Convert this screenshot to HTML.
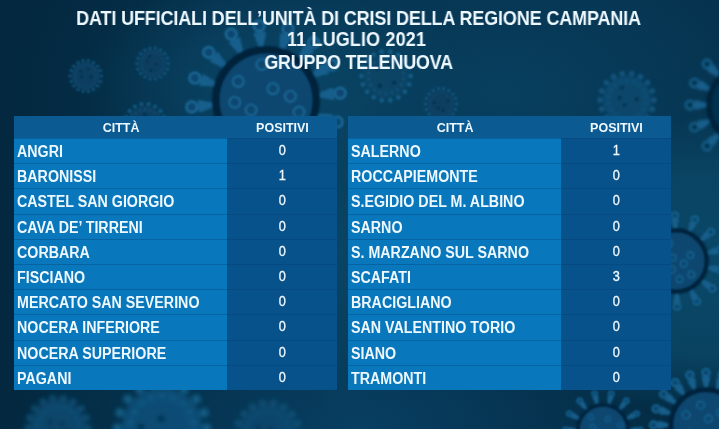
<!DOCTYPE html>
<html><head><meta charset="utf-8">
<style>
*{margin:0;padding:0;box-sizing:border-box}
html,body{width:719px;height:429px;overflow:hidden}
body{position:relative;background:#042b43;font-family:"Liberation Sans",Arial,sans-serif;font-weight:bold;color:#eef8ff}
#bg{position:absolute;left:0;top:0;width:719px;height:429px}
.title{will-change:transform;transform:scaleX(0.9326);position:absolute;left:0;width:719px;text-align:center;font-size:19.3px;line-height:22px;white-space:nowrap}
.tbl{will-change:transform;position:absolute;top:116px;width:322.5px;height:274px}
.hdr{position:absolute;left:0;top:0;width:100%;height:22px;background:#0b5a92}
.hdr span{position:absolute;top:0;height:22px;line-height:23px;font-size:13px;text-align:center}
.hdr span b{display:inline-block;transform:translateX(1px) scaleX(0.96)}
.row{position:absolute;left:0;width:100%}
.row .c{position:absolute;left:0;top:0;width:213px;height:100%;background:#0977bb;font-size:15.5px;line-height:25.5px;padding-left:3.2px;white-space:nowrap}
.row .c span{display:inline-block;transform:translateY(0.5px) scale(0.92,1.04);transform-origin:0 50%}
.row .p span{display:inline-block;transform:translateY(-1.1px) scale(0.85,1.03);-webkit-text-stroke:0.35px #eef8ff}
.row .p{position:absolute;left:213px;top:0;width:109.5px;height:100%;background:#07528b;font-size:15px;line-height:25px;text-align:center;font-weight:normal}
.row .c::after,.row .p::after{content:"";position:absolute;left:0;top:0;width:100%;height:1px;background:rgba(0,50,100,.3)}
.row .p::after{background:rgba(0,40,80,.15)}
</style></head><body>
<svg id="bg" width="719" height="429" viewBox="0 0 719 429">
<defs>
<filter id="b1" x="-50%" y="-50%" width="200%" height="200%"><feGaussianBlur stdDeviation="0.9"/></filter>
<filter id="b15" x="-50%" y="-50%" width="200%" height="200%"><feGaussianBlur stdDeviation="1.3"/></filter>
<filter id="b3" x="-50%" y="-50%" width="200%" height="200%"><feGaussianBlur stdDeviation="2.6"/></filter>
<filter id="b2" x="-50%" y="-50%" width="200%" height="200%"><feGaussianBlur stdDeviation="1.8"/></filter>
<radialGradient id="g1" cx="0.7" cy="0.22" r="0.7"><stop offset="0" stop-color="#083f5f"/><stop offset="1" stop-color="#083f5f" stop-opacity="0"/></radialGradient>
<radialGradient id="g3" cx="1" cy="0.62" r="0.35"><stop offset="0" stop-color="#0a4767"/><stop offset="0.6" stop-color="#0a4767" stop-opacity=".85"/><stop offset="1" stop-color="#0a4767" stop-opacity="0"/></radialGradient>
<radialGradient id="g4"><stop offset="0" stop-color="#0a4566"/><stop offset="0.5" stop-color="#0a4566" stop-opacity=".6"/><stop offset="1" stop-color="#0a4566" stop-opacity="0"/></radialGradient>
<radialGradient id="g2" cx="0.5" cy="1" r="0.5"><stop offset="0" stop-color="#083f62"/><stop offset="1" stop-color="#083f62" stop-opacity="0"/></radialGradient>
</defs>
<rect width="719" height="429" fill="#03283f"/>
<rect width="719" height="429" fill="url(#g1)"/>
<rect width="719" height="429" fill="url(#g2)"/>
<rect width="719" height="429" fill="url(#g3)"/>
<ellipse cx="275" cy="85" rx="190" ry="120" fill="url(#g4)"/>
<ellipse cx="342" cy="250" rx="45" ry="170" fill="url(#g4)"/>
<g opacity="1" filter="url(#b15)">
<circle cx="85.7" cy="76" r="14" fill="#083d5e"/>
<circle cx="101.4" cy="76.0" r="1.5" fill="#145a83"/>
<circle cx="100.4" cy="81.4" r="1.5" fill="#145a83"/>
<circle cx="97.7" cy="86.1" r="1.5" fill="#145a83"/>
<circle cx="93.5" cy="89.6" r="1.5" fill="#145a83"/>
<circle cx="88.4" cy="91.4" r="1.5" fill="#145a83"/>
<circle cx="83.0" cy="91.4" r="1.5" fill="#145a83"/>
<circle cx="77.9" cy="89.6" r="1.5" fill="#145a83"/>
<circle cx="73.7" cy="86.1" r="1.5" fill="#145a83"/>
<circle cx="71.0" cy="81.4" r="1.5" fill="#145a83"/>
<circle cx="70.0" cy="76.0" r="1.5" fill="#145a83"/>
<circle cx="71.0" cy="70.6" r="1.5" fill="#145a83"/>
<circle cx="73.7" cy="65.9" r="1.5" fill="#145a83"/>
<circle cx="77.9" cy="62.4" r="1.5" fill="#145a83"/>
<circle cx="83.0" cy="60.6" r="1.5" fill="#145a83"/>
<circle cx="88.4" cy="60.6" r="1.5" fill="#145a83"/>
<circle cx="93.5" cy="62.4" r="1.5" fill="#145a83"/>
<circle cx="97.7" cy="65.9" r="1.5" fill="#145a83"/>
<circle cx="100.4" cy="70.6" r="1.5" fill="#145a83"/>
<circle cx="96.7" cy="77.9" r="1.0" fill="#145a83" opacity=".7"/>
<circle cx="95.4" cy="81.6" r="1.0" fill="#145a83" opacity=".7"/>
<circle cx="92.9" cy="84.6" r="1.0" fill="#145a83" opacity=".7"/>
<circle cx="89.5" cy="86.5" r="1.0" fill="#145a83" opacity=".7"/>
<circle cx="85.7" cy="87.2" r="1.0" fill="#145a83" opacity=".7"/>
<circle cx="81.9" cy="86.5" r="1.0" fill="#145a83" opacity=".7"/>
<circle cx="78.5" cy="84.6" r="1.0" fill="#145a83" opacity=".7"/>
<circle cx="76.0" cy="81.6" r="1.0" fill="#145a83" opacity=".7"/>
<circle cx="74.7" cy="77.9" r="1.0" fill="#145a83" opacity=".7"/>
<circle cx="74.7" cy="74.1" r="1.0" fill="#145a83" opacity=".7"/>
<circle cx="76.0" cy="70.4" r="1.0" fill="#145a83" opacity=".7"/>
<circle cx="78.5" cy="67.4" r="1.0" fill="#145a83" opacity=".7"/>
<circle cx="81.9" cy="65.5" r="1.0" fill="#145a83" opacity=".7"/>
<circle cx="85.7" cy="64.8" r="1.0" fill="#145a83" opacity=".7"/>
<circle cx="89.5" cy="65.5" r="1.0" fill="#145a83" opacity=".7"/>
<circle cx="92.9" cy="67.4" r="1.0" fill="#145a83" opacity=".7"/>
<circle cx="95.4" cy="70.4" r="1.0" fill="#145a83" opacity=".7"/>
<circle cx="96.7" cy="74.1" r="1.0" fill="#145a83" opacity=".7"/>
<circle cx="80.9" cy="71.4" r="1.4" fill="#052f4b" opacity=".8"/>
<circle cx="87.8" cy="68.8" r="1.4" fill="#052f4b" opacity=".8"/>
<circle cx="90.9" cy="77.0" r="1.4" fill="#052f4b" opacity=".8"/>
<circle cx="81.9" cy="76.7" r="1.4" fill="#052f4b" opacity=".8"/>
</g>
<g opacity="1" filter="url(#b15)">
<circle cx="152.6" cy="63.5" r="14" fill="#083d5e"/>
<circle cx="168.3" cy="63.5" r="1.5" fill="#145a83"/>
<circle cx="167.3" cy="68.9" r="1.5" fill="#145a83"/>
<circle cx="164.6" cy="73.6" r="1.5" fill="#145a83"/>
<circle cx="160.4" cy="77.1" r="1.5" fill="#145a83"/>
<circle cx="155.3" cy="78.9" r="1.5" fill="#145a83"/>
<circle cx="149.9" cy="78.9" r="1.5" fill="#145a83"/>
<circle cx="144.8" cy="77.1" r="1.5" fill="#145a83"/>
<circle cx="140.6" cy="73.6" r="1.5" fill="#145a83"/>
<circle cx="137.9" cy="68.9" r="1.5" fill="#145a83"/>
<circle cx="136.9" cy="63.5" r="1.5" fill="#145a83"/>
<circle cx="137.9" cy="58.1" r="1.5" fill="#145a83"/>
<circle cx="140.6" cy="53.4" r="1.5" fill="#145a83"/>
<circle cx="144.8" cy="49.9" r="1.5" fill="#145a83"/>
<circle cx="149.9" cy="48.1" r="1.5" fill="#145a83"/>
<circle cx="155.3" cy="48.1" r="1.5" fill="#145a83"/>
<circle cx="160.4" cy="49.9" r="1.5" fill="#145a83"/>
<circle cx="164.6" cy="53.4" r="1.5" fill="#145a83"/>
<circle cx="167.3" cy="58.1" r="1.5" fill="#145a83"/>
<circle cx="163.6" cy="65.4" r="1.0" fill="#145a83" opacity=".7"/>
<circle cx="162.3" cy="69.1" r="1.0" fill="#145a83" opacity=".7"/>
<circle cx="159.8" cy="72.1" r="1.0" fill="#145a83" opacity=".7"/>
<circle cx="156.4" cy="74.0" r="1.0" fill="#145a83" opacity=".7"/>
<circle cx="152.6" cy="74.7" r="1.0" fill="#145a83" opacity=".7"/>
<circle cx="148.8" cy="74.0" r="1.0" fill="#145a83" opacity=".7"/>
<circle cx="145.4" cy="72.1" r="1.0" fill="#145a83" opacity=".7"/>
<circle cx="142.9" cy="69.1" r="1.0" fill="#145a83" opacity=".7"/>
<circle cx="141.6" cy="65.4" r="1.0" fill="#145a83" opacity=".7"/>
<circle cx="141.6" cy="61.6" r="1.0" fill="#145a83" opacity=".7"/>
<circle cx="142.9" cy="57.9" r="1.0" fill="#145a83" opacity=".7"/>
<circle cx="145.4" cy="54.9" r="1.0" fill="#145a83" opacity=".7"/>
<circle cx="148.8" cy="53.0" r="1.0" fill="#145a83" opacity=".7"/>
<circle cx="152.6" cy="52.3" r="1.0" fill="#145a83" opacity=".7"/>
<circle cx="156.4" cy="53.0" r="1.0" fill="#145a83" opacity=".7"/>
<circle cx="159.8" cy="54.9" r="1.0" fill="#145a83" opacity=".7"/>
<circle cx="162.3" cy="57.9" r="1.0" fill="#145a83" opacity=".7"/>
<circle cx="163.6" cy="61.6" r="1.0" fill="#145a83" opacity=".7"/>
<circle cx="147.0" cy="61.9" r="1.4" fill="#052f4b" opacity=".8"/>
<circle cx="156.2" cy="63.8" r="1.4" fill="#052f4b" opacity=".8"/>
<circle cx="151.2" cy="70.7" r="1.4" fill="#052f4b" opacity=".8"/>
<circle cx="149.8" cy="56.5" r="1.4" fill="#052f4b" opacity=".8"/>
</g>
<g opacity="1" filter="url(#b15)">
<circle cx="145" cy="124" r="18" fill="#083d5e"/>
<circle cx="165.2" cy="124.0" r="2.0" fill="#145a83"/>
<circle cx="163.9" cy="130.9" r="2.0" fill="#145a83"/>
<circle cx="160.4" cy="137.0" r="2.0" fill="#145a83"/>
<circle cx="155.1" cy="141.5" r="2.0" fill="#145a83"/>
<circle cx="148.5" cy="143.9" r="2.0" fill="#145a83"/>
<circle cx="141.5" cy="143.9" r="2.0" fill="#145a83"/>
<circle cx="134.9" cy="141.5" r="2.0" fill="#145a83"/>
<circle cx="129.6" cy="137.0" r="2.0" fill="#145a83"/>
<circle cx="126.1" cy="130.9" r="2.0" fill="#145a83"/>
<circle cx="124.8" cy="124.0" r="2.0" fill="#145a83"/>
<circle cx="126.1" cy="117.1" r="2.0" fill="#145a83"/>
<circle cx="129.6" cy="111.0" r="2.0" fill="#145a83"/>
<circle cx="134.9" cy="106.5" r="2.0" fill="#145a83"/>
<circle cx="141.5" cy="104.1" r="2.0" fill="#145a83"/>
<circle cx="148.5" cy="104.1" r="2.0" fill="#145a83"/>
<circle cx="155.1" cy="106.5" r="2.0" fill="#145a83"/>
<circle cx="160.4" cy="111.0" r="2.0" fill="#145a83"/>
<circle cx="163.9" cy="117.1" r="2.0" fill="#145a83"/>
<circle cx="159.2" cy="126.5" r="1.3" fill="#145a83" opacity=".7"/>
<circle cx="157.5" cy="131.2" r="1.3" fill="#145a83" opacity=".7"/>
<circle cx="154.3" cy="135.0" r="1.3" fill="#145a83" opacity=".7"/>
<circle cx="149.9" cy="137.5" r="1.3" fill="#145a83" opacity=".7"/>
<circle cx="145.0" cy="138.4" r="1.3" fill="#145a83" opacity=".7"/>
<circle cx="140.1" cy="137.5" r="1.3" fill="#145a83" opacity=".7"/>
<circle cx="135.7" cy="135.0" r="1.3" fill="#145a83" opacity=".7"/>
<circle cx="132.5" cy="131.2" r="1.3" fill="#145a83" opacity=".7"/>
<circle cx="130.8" cy="126.5" r="1.3" fill="#145a83" opacity=".7"/>
<circle cx="130.8" cy="121.5" r="1.3" fill="#145a83" opacity=".7"/>
<circle cx="132.5" cy="116.8" r="1.3" fill="#145a83" opacity=".7"/>
<circle cx="135.7" cy="113.0" r="1.3" fill="#145a83" opacity=".7"/>
<circle cx="140.1" cy="110.5" r="1.3" fill="#145a83" opacity=".7"/>
<circle cx="145.0" cy="109.6" r="1.3" fill="#145a83" opacity=".7"/>
<circle cx="149.9" cy="110.5" r="1.3" fill="#145a83" opacity=".7"/>
<circle cx="154.3" cy="113.0" r="1.3" fill="#145a83" opacity=".7"/>
<circle cx="157.5" cy="116.8" r="1.3" fill="#145a83" opacity=".7"/>
<circle cx="159.2" cy="121.5" r="1.3" fill="#145a83" opacity=".7"/>
<circle cx="149.2" cy="120.6" r="1.8" fill="#052f4b" opacity=".8"/>
<circle cx="142.4" cy="127.1" r="1.8" fill="#052f4b" opacity=".8"/>
<circle cx="145.0" cy="114.9" r="1.8" fill="#052f4b" opacity=".8"/>
<circle cx="149.1" cy="132.8" r="1.8" fill="#052f4b" opacity=".8"/>
</g>
<g opacity="1" filter="url(#b15)">
<circle cx="441" cy="104" r="14" fill="#083d5e"/>
<circle cx="456.7" cy="104.0" r="1.5" fill="#145a83"/>
<circle cx="455.7" cy="109.4" r="1.5" fill="#145a83"/>
<circle cx="453.0" cy="114.1" r="1.5" fill="#145a83"/>
<circle cx="448.8" cy="117.6" r="1.5" fill="#145a83"/>
<circle cx="443.7" cy="119.4" r="1.5" fill="#145a83"/>
<circle cx="438.3" cy="119.4" r="1.5" fill="#145a83"/>
<circle cx="433.2" cy="117.6" r="1.5" fill="#145a83"/>
<circle cx="429.0" cy="114.1" r="1.5" fill="#145a83"/>
<circle cx="426.3" cy="109.4" r="1.5" fill="#145a83"/>
<circle cx="425.3" cy="104.0" r="1.5" fill="#145a83"/>
<circle cx="426.3" cy="98.6" r="1.5" fill="#145a83"/>
<circle cx="429.0" cy="93.9" r="1.5" fill="#145a83"/>
<circle cx="433.2" cy="90.4" r="1.5" fill="#145a83"/>
<circle cx="438.3" cy="88.6" r="1.5" fill="#145a83"/>
<circle cx="443.7" cy="88.6" r="1.5" fill="#145a83"/>
<circle cx="448.8" cy="90.4" r="1.5" fill="#145a83"/>
<circle cx="453.0" cy="93.9" r="1.5" fill="#145a83"/>
<circle cx="455.7" cy="98.6" r="1.5" fill="#145a83"/>
<circle cx="452.0" cy="105.9" r="1.0" fill="#145a83" opacity=".7"/>
<circle cx="450.7" cy="109.6" r="1.0" fill="#145a83" opacity=".7"/>
<circle cx="448.2" cy="112.6" r="1.0" fill="#145a83" opacity=".7"/>
<circle cx="444.8" cy="114.5" r="1.0" fill="#145a83" opacity=".7"/>
<circle cx="441.0" cy="115.2" r="1.0" fill="#145a83" opacity=".7"/>
<circle cx="437.2" cy="114.5" r="1.0" fill="#145a83" opacity=".7"/>
<circle cx="433.8" cy="112.6" r="1.0" fill="#145a83" opacity=".7"/>
<circle cx="431.3" cy="109.6" r="1.0" fill="#145a83" opacity=".7"/>
<circle cx="430.0" cy="105.9" r="1.0" fill="#145a83" opacity=".7"/>
<circle cx="430.0" cy="102.1" r="1.0" fill="#145a83" opacity=".7"/>
<circle cx="431.3" cy="98.4" r="1.0" fill="#145a83" opacity=".7"/>
<circle cx="433.8" cy="95.4" r="1.0" fill="#145a83" opacity=".7"/>
<circle cx="437.2" cy="93.5" r="1.0" fill="#145a83" opacity=".7"/>
<circle cx="441.0" cy="92.8" r="1.0" fill="#145a83" opacity=".7"/>
<circle cx="444.8" cy="93.5" r="1.0" fill="#145a83" opacity=".7"/>
<circle cx="448.2" cy="95.4" r="1.0" fill="#145a83" opacity=".7"/>
<circle cx="450.7" cy="98.4" r="1.0" fill="#145a83" opacity=".7"/>
<circle cx="452.0" cy="102.1" r="1.0" fill="#145a83" opacity=".7"/>
<circle cx="443.2" cy="110.3" r="1.4" fill="#052f4b" opacity=".8"/>
<circle cx="447.8" cy="100.8" r="1.4" fill="#052f4b" opacity=".8"/>
<circle cx="438.4" cy="107.8" r="1.4" fill="#052f4b" opacity=".8"/>
<circle cx="434.3" cy="103.0" r="1.4" fill="#052f4b" opacity=".8"/>
</g>
<g opacity="0.85" filter="url(#b15)">
<circle cx="386" cy="76" r="22" fill="#0a4466"/>
<circle cx="410.6" cy="76.0" r="2.4" fill="#17628e"/>
<circle cx="409.2" cy="84.4" r="2.4" fill="#17628e"/>
<circle cx="404.9" cy="91.8" r="2.4" fill="#17628e"/>
<circle cx="398.3" cy="97.3" r="2.4" fill="#17628e"/>
<circle cx="390.3" cy="100.3" r="2.4" fill="#17628e"/>
<circle cx="381.7" cy="100.3" r="2.4" fill="#17628e"/>
<circle cx="373.7" cy="97.3" r="2.4" fill="#17628e"/>
<circle cx="367.1" cy="91.8" r="2.4" fill="#17628e"/>
<circle cx="362.8" cy="84.4" r="2.4" fill="#17628e"/>
<circle cx="361.4" cy="76.0" r="2.4" fill="#17628e"/>
<circle cx="362.8" cy="67.6" r="2.4" fill="#17628e"/>
<circle cx="367.1" cy="60.2" r="2.4" fill="#17628e"/>
<circle cx="373.7" cy="54.7" r="2.4" fill="#17628e"/>
<circle cx="381.7" cy="51.7" r="2.4" fill="#17628e"/>
<circle cx="390.3" cy="51.7" r="2.4" fill="#17628e"/>
<circle cx="398.3" cy="54.7" r="2.4" fill="#17628e"/>
<circle cx="404.9" cy="60.2" r="2.4" fill="#17628e"/>
<circle cx="409.2" cy="67.6" r="2.4" fill="#17628e"/>
<circle cx="403.3" cy="79.1" r="1.5" fill="#17628e" opacity=".7"/>
<circle cx="401.2" cy="84.8" r="1.5" fill="#17628e" opacity=".7"/>
<circle cx="397.3" cy="89.5" r="1.5" fill="#17628e" opacity=".7"/>
<circle cx="392.0" cy="92.5" r="1.5" fill="#17628e" opacity=".7"/>
<circle cx="386.0" cy="93.6" r="1.5" fill="#17628e" opacity=".7"/>
<circle cx="380.0" cy="92.5" r="1.5" fill="#17628e" opacity=".7"/>
<circle cx="374.7" cy="89.5" r="1.5" fill="#17628e" opacity=".7"/>
<circle cx="370.8" cy="84.8" r="1.5" fill="#17628e" opacity=".7"/>
<circle cx="368.7" cy="79.1" r="1.5" fill="#17628e" opacity=".7"/>
<circle cx="368.7" cy="72.9" r="1.5" fill="#17628e" opacity=".7"/>
<circle cx="370.8" cy="67.2" r="1.5" fill="#17628e" opacity=".7"/>
<circle cx="374.7" cy="62.5" r="1.5" fill="#17628e" opacity=".7"/>
<circle cx="380.0" cy="59.5" r="1.5" fill="#17628e" opacity=".7"/>
<circle cx="386.0" cy="58.4" r="1.5" fill="#17628e" opacity=".7"/>
<circle cx="392.0" cy="59.5" r="1.5" fill="#17628e" opacity=".7"/>
<circle cx="397.3" cy="62.5" r="1.5" fill="#17628e" opacity=".7"/>
<circle cx="401.2" cy="67.2" r="1.5" fill="#17628e" opacity=".7"/>
<circle cx="403.3" cy="72.9" r="1.5" fill="#17628e" opacity=".7"/>
<circle cx="394.1" cy="82.6" r="2.2" fill="#052f4b" opacity=".8"/>
<circle cx="389.3" cy="65.3" r="2.2" fill="#052f4b" opacity=".8"/>
<circle cx="377.1" cy="68.6" r="2.2" fill="#052f4b" opacity=".8"/>
<circle cx="379.8" cy="85.8" r="2.2" fill="#052f4b" opacity=".8"/>
</g>
<g opacity="0.9" filter="url(#b2)">
<circle cx="627" cy="100" r="24" fill="#0b4a6e"/>
<circle cx="653.9" cy="100.0" r="2.6" fill="#145c88"/>
<circle cx="652.3" cy="109.2" r="2.6" fill="#145c88"/>
<circle cx="647.6" cy="117.3" r="2.6" fill="#145c88"/>
<circle cx="640.4" cy="123.3" r="2.6" fill="#145c88"/>
<circle cx="631.7" cy="126.5" r="2.6" fill="#145c88"/>
<circle cx="622.3" cy="126.5" r="2.6" fill="#145c88"/>
<circle cx="613.6" cy="123.3" r="2.6" fill="#145c88"/>
<circle cx="606.4" cy="117.3" r="2.6" fill="#145c88"/>
<circle cx="601.7" cy="109.2" r="2.6" fill="#145c88"/>
<circle cx="600.1" cy="100.0" r="2.6" fill="#145c88"/>
<circle cx="601.7" cy="90.8" r="2.6" fill="#145c88"/>
<circle cx="606.4" cy="82.7" r="2.6" fill="#145c88"/>
<circle cx="613.6" cy="76.7" r="2.6" fill="#145c88"/>
<circle cx="622.3" cy="73.5" r="2.6" fill="#145c88"/>
<circle cx="631.7" cy="73.5" r="2.6" fill="#145c88"/>
<circle cx="640.4" cy="76.7" r="2.6" fill="#145c88"/>
<circle cx="647.6" cy="82.7" r="2.6" fill="#145c88"/>
<circle cx="652.3" cy="90.8" r="2.6" fill="#145c88"/>
<circle cx="645.9" cy="103.3" r="1.7" fill="#145c88" opacity=".7"/>
<circle cx="643.6" cy="109.6" r="1.7" fill="#145c88" opacity=".7"/>
<circle cx="639.3" cy="114.7" r="1.7" fill="#145c88" opacity=".7"/>
<circle cx="633.6" cy="118.0" r="1.7" fill="#145c88" opacity=".7"/>
<circle cx="627.0" cy="119.2" r="1.7" fill="#145c88" opacity=".7"/>
<circle cx="620.4" cy="118.0" r="1.7" fill="#145c88" opacity=".7"/>
<circle cx="614.7" cy="114.7" r="1.7" fill="#145c88" opacity=".7"/>
<circle cx="610.4" cy="109.6" r="1.7" fill="#145c88" opacity=".7"/>
<circle cx="608.1" cy="103.3" r="1.7" fill="#145c88" opacity=".7"/>
<circle cx="608.1" cy="96.7" r="1.7" fill="#145c88" opacity=".7"/>
<circle cx="610.4" cy="90.4" r="1.7" fill="#145c88" opacity=".7"/>
<circle cx="614.7" cy="85.3" r="1.7" fill="#145c88" opacity=".7"/>
<circle cx="620.4" cy="82.0" r="1.7" fill="#145c88" opacity=".7"/>
<circle cx="627.0" cy="80.8" r="1.7" fill="#145c88" opacity=".7"/>
<circle cx="633.6" cy="82.0" r="1.7" fill="#145c88" opacity=".7"/>
<circle cx="639.3" cy="85.3" r="1.7" fill="#145c88" opacity=".7"/>
<circle cx="643.6" cy="90.4" r="1.7" fill="#145c88" opacity=".7"/>
<circle cx="645.9" cy="96.7" r="1.7" fill="#145c88" opacity=".7"/>
<circle cx="619.9" cy="97.9" r="2.4" fill="#052f4b" opacity=".8"/>
<circle cx="624.7" cy="105.1" r="2.4" fill="#052f4b" opacity=".8"/>
<circle cx="622.1" cy="87.8" r="2.4" fill="#052f4b" opacity=".8"/>
<circle cx="636.6" cy="99.2" r="2.4" fill="#052f4b" opacity=".8"/>
</g>
<g opacity="1" filter="url(#b15)">
<polygon points="314.5,117.0 329.1,126.3 332.9,113.9 315.6,113.4" fill="#165f8c"/>
<circle cx="337.2" cy="122.0" r="5.4" fill="#0a4670" stroke="#1a6896" stroke-width="2.4"/>
<polygon points="304.3,134.2 314.2,148.4 322.5,138.5 306.7,131.3" fill="#165f8c"/>
<circle cx="323.3" cy="147.6" r="5.4" fill="#0a4670" stroke="#1a6896" stroke-width="2.4"/>
<polygon points="288.3,146.3 292.0,163.2 303.5,157.2 291.6,144.5" fill="#165f8c"/>
<circle cx="300.8" cy="165.9" r="5.4" fill="#0a4670" stroke="#1a6896" stroke-width="2.4"/>
<polygon points="268.9,151.3 265.8,168.3 278.8,167.1 272.6,150.9" fill="#165f8c"/>
<circle cx="272.9" cy="174.2" r="5.4" fill="#0a4670" stroke="#1a6896" stroke-width="2.4"/>
<polygon points="249.0,148.5 239.7,163.1 252.1,166.9 252.6,149.6" fill="#165f8c"/>
<circle cx="244.0" cy="171.2" r="5.4" fill="#0a4670" stroke="#1a6896" stroke-width="2.4"/>
<polygon points="231.8,138.3 217.6,148.2 227.5,156.5 234.7,140.7" fill="#165f8c"/>
<circle cx="218.4" cy="157.3" r="5.4" fill="#0a4670" stroke="#1a6896" stroke-width="2.4"/>
<polygon points="219.7,122.3 202.8,126.0 208.8,137.5 221.5,125.6" fill="#165f8c"/>
<circle cx="200.1" cy="134.8" r="5.4" fill="#0a4670" stroke="#1a6896" stroke-width="2.4"/>
<polygon points="214.7,102.9 197.7,99.8 198.9,112.8 215.1,106.6" fill="#165f8c"/>
<circle cx="191.8" cy="106.9" r="5.4" fill="#0a4670" stroke="#1a6896" stroke-width="2.4"/>
<polygon points="217.5,83.0 202.9,73.7 199.1,86.1 216.4,86.6" fill="#165f8c"/>
<circle cx="194.8" cy="78.0" r="5.4" fill="#0a4670" stroke="#1a6896" stroke-width="2.4"/>
<polygon points="227.7,65.8 217.8,51.6 209.5,61.5 225.3,68.7" fill="#165f8c"/>
<circle cx="208.7" cy="52.4" r="5.4" fill="#0a4670" stroke="#1a6896" stroke-width="2.4"/>
<polygon points="243.7,53.7 240.0,36.8 228.5,42.8 240.4,55.5" fill="#165f8c"/>
<circle cx="231.2" cy="34.1" r="5.4" fill="#0a4670" stroke="#1a6896" stroke-width="2.4"/>
<polygon points="263.1,48.7 266.2,31.7 253.2,32.9 259.4,49.1" fill="#165f8c"/>
<circle cx="259.1" cy="25.8" r="5.4" fill="#0a4670" stroke="#1a6896" stroke-width="2.4"/>
<polygon points="283.0,51.5 292.3,36.9 279.9,33.1 279.4,50.4" fill="#165f8c"/>
<circle cx="288.0" cy="28.8" r="5.4" fill="#0a4670" stroke="#1a6896" stroke-width="2.4"/>
<polygon points="300.2,61.7 314.4,51.8 304.5,43.5 297.3,59.3" fill="#165f8c"/>
<circle cx="313.6" cy="42.7" r="5.4" fill="#0a4670" stroke="#1a6896" stroke-width="2.4"/>
<polygon points="312.3,77.7 329.2,74.0 323.2,62.5 310.5,74.4" fill="#165f8c"/>
<circle cx="331.9" cy="65.2" r="5.4" fill="#0a4670" stroke="#1a6896" stroke-width="2.4"/>
<polygon points="317.3,97.1 334.3,100.2 333.1,87.2 316.9,93.4" fill="#165f8c"/>
<circle cx="340.2" cy="93.1" r="5.4" fill="#0a4670" stroke="#1a6896" stroke-width="2.4"/>
<circle cx="266" cy="100" r="54" fill="#0a4670"/>
<circle cx="266" cy="100" r="50.2" fill="none" stroke="#03213a" stroke-width="7.6"/>
<circle cx="251.1" cy="110.0" r="5.4" fill="none" stroke="#1a6896" stroke-width="1.9"/>
<circle cx="238.3" cy="81.4" r="5.4" fill="none" stroke="#1a6896" stroke-width="1.9"/>
<circle cx="299.0" cy="112.1" r="5.4" fill="none" stroke="#1a6896" stroke-width="1.9"/>
<circle cx="273.0" cy="88.7" r="5.4" fill="none" stroke="#1a6896" stroke-width="1.9"/>
<circle cx="261.9" cy="64.5" r="5.4" fill="none" stroke="#1a6896" stroke-width="1.9"/>
<circle cx="286.0" cy="127.2" r="5.4" fill="none" stroke="#1a6896" stroke-width="1.9"/>
<circle cx="290.4" cy="96.3" r="5.4" fill="none" stroke="#1a6896" stroke-width="1.9"/>
<circle cx="234.7" cy="102.3" r="5.4" fill="none" stroke="#1a6896" stroke-width="1.9"/>
</g>
<g opacity="1" filter="url(#b2)">
<polygon points="787.9,106.5 800.9,110.0 800.9,100.0 787.9,103.5" fill="#165f8c"/>
<circle cx="806.0" cy="105.0" r="4.2" fill="#06324f" stroke="#1a6896" stroke-width="1.9"/>
<polygon points="784.3,121.6 795.0,129.9 798.8,120.6 785.4,118.9" fill="#165f8c"/>
<circle cx="801.5" cy="127.2" r="4.2" fill="#06324f" stroke="#1a6896" stroke-width="1.9"/>
<polygon points="775.2,134.3 781.9,146.0 789.0,138.9 777.3,132.2" fill="#165f8c"/>
<circle cx="789.0" cy="146.0" r="4.2" fill="#06324f" stroke="#1a6896" stroke-width="1.9"/>
<polygon points="761.9,142.4 763.6,155.8 772.9,152.0 764.6,141.3" fill="#165f8c"/>
<circle cx="770.2" cy="158.5" r="4.2" fill="#06324f" stroke="#1a6896" stroke-width="1.9"/>
<polygon points="746.5,144.9 743.0,157.9 753.0,157.9 749.5,144.9" fill="#165f8c"/>
<circle cx="748.0" cy="163.0" r="4.2" fill="#06324f" stroke="#1a6896" stroke-width="1.9"/>
<polygon points="731.4,141.3 723.1,152.0 732.4,155.8 734.1,142.4" fill="#165f8c"/>
<circle cx="725.8" cy="158.5" r="4.2" fill="#06324f" stroke="#1a6896" stroke-width="1.9"/>
<polygon points="718.7,132.2 707.0,138.9 714.1,146.0 720.8,134.3" fill="#165f8c"/>
<circle cx="707.0" cy="146.0" r="4.2" fill="#06324f" stroke="#1a6896" stroke-width="1.9"/>
<polygon points="710.6,118.9 697.2,120.6 701.0,129.9 711.7,121.6" fill="#165f8c"/>
<circle cx="694.5" cy="127.2" r="4.2" fill="#06324f" stroke="#1a6896" stroke-width="1.9"/>
<polygon points="708.1,103.5 695.1,100.0 695.1,110.0 708.1,106.5" fill="#165f8c"/>
<circle cx="690.0" cy="105.0" r="4.2" fill="#06324f" stroke="#1a6896" stroke-width="1.9"/>
<polygon points="711.7,88.4 701.0,80.1 697.2,89.4 710.6,91.1" fill="#165f8c"/>
<circle cx="694.5" cy="82.8" r="4.2" fill="#06324f" stroke="#1a6896" stroke-width="1.9"/>
<polygon points="720.8,75.7 714.1,64.0 707.0,71.1 718.7,77.8" fill="#165f8c"/>
<circle cx="707.0" cy="64.0" r="4.2" fill="#06324f" stroke="#1a6896" stroke-width="1.9"/>
<polygon points="734.1,67.6 732.4,54.2 723.1,58.0 731.4,68.7" fill="#165f8c"/>
<circle cx="725.8" cy="51.5" r="4.2" fill="#06324f" stroke="#1a6896" stroke-width="1.9"/>
<polygon points="749.5,65.1 753.0,52.1 743.0,52.1 746.5,65.1" fill="#165f8c"/>
<circle cx="748.0" cy="47.0" r="4.2" fill="#06324f" stroke="#1a6896" stroke-width="1.9"/>
<polygon points="764.6,68.7 772.9,58.0 763.6,54.2 761.9,67.6" fill="#165f8c"/>
<circle cx="770.2" cy="51.5" r="4.2" fill="#06324f" stroke="#1a6896" stroke-width="1.9"/>
<polygon points="777.3,77.8 789.0,71.1 781.9,64.0 775.2,75.7" fill="#165f8c"/>
<circle cx="789.0" cy="64.0" r="4.2" fill="#06324f" stroke="#1a6896" stroke-width="1.9"/>
<polygon points="785.4,91.1 798.8,89.4 795.0,80.1 784.3,88.4" fill="#165f8c"/>
<circle cx="801.5" cy="82.8" r="4.2" fill="#06324f" stroke="#1a6896" stroke-width="1.9"/>
<circle cx="748" cy="105" r="42" fill="#06324f"/>
<circle cx="748" cy="105" r="39.1" fill="none" stroke="#03213a" stroke-width="5.9"/>
<circle cx="732.7" cy="107.0" r="4.2" fill="none" stroke="#1a6896" stroke-width="1.5"/>
<circle cx="727.7" cy="124.8" r="4.2" fill="none" stroke="#1a6896" stroke-width="1.5"/>
<circle cx="769.9" cy="99.4" r="4.2" fill="none" stroke="#1a6896" stroke-width="1.5"/>
<circle cx="760.6" cy="112.9" r="4.2" fill="none" stroke="#1a6896" stroke-width="1.5"/>
<circle cx="753.3" cy="78.9" r="4.2" fill="none" stroke="#1a6896" stroke-width="1.5"/>
<circle cx="735.2" cy="83.7" r="4.2" fill="none" stroke="#1a6896" stroke-width="1.5"/>
<circle cx="744.2" cy="124.5" r="4.2" fill="none" stroke="#1a6896" stroke-width="1.5"/>
<circle cx="761.1" cy="127.6" r="4.2" fill="none" stroke="#1a6896" stroke-width="1.5"/>
</g>
<g opacity="1" filter="url(#b15)">
<polygon points="706.5,268.4 716.0,273.1 717.5,265.4 707.0,266.1" fill="#165f8c"/>
<circle cx="720.6" cy="270.0" r="3.3" fill="#0a4670" stroke="#1a6896" stroke-width="1.5"/>
<polygon points="700.3,280.9 706.7,289.3 711.5,283.0 701.7,279.0" fill="#165f8c"/>
<circle cx="712.3" cy="288.5" r="3.3" fill="#0a4670" stroke="#1a6896" stroke-width="1.5"/>
<polygon points="689.3,289.4 691.4,299.8 698.5,296.2 691.3,288.4" fill="#165f8c"/>
<circle cx="696.8" cy="301.5" r="3.3" fill="#0a4670" stroke="#1a6896" stroke-width="1.5"/>
<polygon points="675.6,292.4 673.1,302.7 681.0,302.5 677.9,292.3" fill="#165f8c"/>
<circle cx="677.1" cy="306.5" r="3.3" fill="#0a4670" stroke="#1a6896" stroke-width="1.5"/>
<polygon points="662.0,289.1 655.3,297.3 662.5,300.5 664.1,290.0" fill="#165f8c"/>
<circle cx="657.2" cy="302.5" r="3.3" fill="#0a4670" stroke="#1a6896" stroke-width="1.5"/>
<polygon points="651.2,280.3 641.6,284.7 646.7,290.7 652.7,282.0" fill="#165f8c"/>
<circle cx="641.1" cy="290.3" r="3.3" fill="#0a4670" stroke="#1a6896" stroke-width="1.5"/>
<polygon points="645.3,267.6 634.7,267.4 636.7,275.1 645.9,269.8" fill="#165f8c"/>
<circle cx="631.9" cy="272.2" r="3.3" fill="#0a4670" stroke="#1a6896" stroke-width="1.5"/>
<polygon points="645.5,253.6 636.0,248.9 634.5,256.6 645.0,255.9" fill="#165f8c"/>
<circle cx="631.4" cy="252.0" r="3.3" fill="#0a4670" stroke="#1a6896" stroke-width="1.5"/>
<polygon points="651.7,241.1 645.3,232.7 640.5,239.0 650.3,243.0" fill="#165f8c"/>
<circle cx="639.7" cy="233.5" r="3.3" fill="#0a4670" stroke="#1a6896" stroke-width="1.5"/>
<polygon points="662.7,232.6 660.6,222.2 653.5,225.8 660.7,233.6" fill="#165f8c"/>
<circle cx="655.2" cy="220.5" r="3.3" fill="#0a4670" stroke="#1a6896" stroke-width="1.5"/>
<polygon points="676.4,229.6 678.9,219.3 671.0,219.5 674.1,229.7" fill="#165f8c"/>
<circle cx="674.9" cy="215.5" r="3.3" fill="#0a4670" stroke="#1a6896" stroke-width="1.5"/>
<polygon points="690.0,232.9 696.7,224.7 689.5,221.5 687.9,232.0" fill="#165f8c"/>
<circle cx="694.8" cy="219.5" r="3.3" fill="#0a4670" stroke="#1a6896" stroke-width="1.5"/>
<polygon points="700.8,241.7 710.4,237.3 705.3,231.3 699.3,240.0" fill="#165f8c"/>
<circle cx="710.9" cy="231.7" r="3.3" fill="#0a4670" stroke="#1a6896" stroke-width="1.5"/>
<polygon points="706.7,254.4 717.3,254.6 715.3,246.9 706.1,252.2" fill="#165f8c"/>
<circle cx="720.1" cy="249.8" r="3.3" fill="#0a4670" stroke="#1a6896" stroke-width="1.5"/>
<circle cx="676" cy="261" r="33" fill="#0a4670"/>
<circle cx="676" cy="261" r="30.7" fill="none" stroke="#03213a" stroke-width="4.6"/>
<circle cx="690.3" cy="255.1" r="3.3" fill="none" stroke="#1a6896" stroke-width="1.2"/>
<circle cx="669.2" cy="243.2" r="3.3" fill="none" stroke="#1a6896" stroke-width="1.2"/>
<circle cx="659.1" cy="267.5" r="3.3" fill="none" stroke="#1a6896" stroke-width="1.2"/>
<circle cx="679.6" cy="279.2" r="3.3" fill="none" stroke="#1a6896" stroke-width="1.2"/>
<circle cx="672.9" cy="257.6" r="3.3" fill="none" stroke="#1a6896" stroke-width="1.2"/>
<circle cx="683.7" cy="263.7" r="3.3" fill="none" stroke="#1a6896" stroke-width="1.2"/>
<circle cx="672.1" cy="269.7" r="3.3" fill="none" stroke="#1a6896" stroke-width="1.2"/>
<circle cx="691.3" cy="274.5" r="3.3" fill="none" stroke="#1a6896" stroke-width="1.2"/>
</g>
<g opacity="1" filter="url(#b15)">
<polygon points="628.6,430.9 637.0,433.2 637.0,426.8 628.6,429.1" fill="#165f8c"/>
<circle cx="640.3" cy="430.0" r="2.7" fill="#0a4670" stroke="#1a6896" stroke-width="1.2"/>
<polygon points="625.7,442.0 632.2,447.7 635.1,441.8 626.5,440.3" fill="#165f8c"/>
<circle cx="636.6" cy="446.2" r="2.7" fill="#0a4670" stroke="#1a6896" stroke-width="1.2"/>
<polygon points="618.3,450.6 621.7,458.6 626.7,454.6 619.7,449.5" fill="#165f8c"/>
<circle cx="626.2" cy="459.1" r="2.7" fill="#0a4670" stroke="#1a6896" stroke-width="1.2"/>
<polygon points="607.8,455.2 607.4,463.9 613.7,462.4 609.6,454.8" fill="#165f8c"/>
<circle cx="611.3" cy="466.3" r="2.7" fill="#0a4670" stroke="#1a6896" stroke-width="1.2"/>
<polygon points="596.4,454.8 592.3,462.4 598.6,463.9 598.2,455.2" fill="#165f8c"/>
<circle cx="594.7" cy="466.3" r="2.7" fill="#0a4670" stroke="#1a6896" stroke-width="1.2"/>
<polygon points="586.3,449.5 579.3,454.6 584.3,458.6 587.7,450.6" fill="#165f8c"/>
<circle cx="579.8" cy="459.1" r="2.7" fill="#0a4670" stroke="#1a6896" stroke-width="1.2"/>
<polygon points="579.5,440.3 570.9,441.8 573.8,447.7 580.3,442.0" fill="#165f8c"/>
<circle cx="569.4" cy="446.2" r="2.7" fill="#0a4670" stroke="#1a6896" stroke-width="1.2"/>
<polygon points="577.4,429.1 569.0,426.8 569.0,433.2 577.4,430.9" fill="#165f8c"/>
<circle cx="565.7" cy="430.0" r="2.7" fill="#0a4670" stroke="#1a6896" stroke-width="1.2"/>
<polygon points="580.3,418.0 573.8,412.3 570.9,418.2 579.5,419.7" fill="#165f8c"/>
<circle cx="569.4" cy="413.8" r="2.7" fill="#0a4670" stroke="#1a6896" stroke-width="1.2"/>
<polygon points="587.7,409.4 584.3,401.4 579.3,405.4 586.3,410.5" fill="#165f8c"/>
<circle cx="579.8" cy="400.9" r="2.7" fill="#0a4670" stroke="#1a6896" stroke-width="1.2"/>
<polygon points="598.2,404.8 598.6,396.1 592.3,397.6 596.4,405.2" fill="#165f8c"/>
<circle cx="594.7" cy="393.7" r="2.7" fill="#0a4670" stroke="#1a6896" stroke-width="1.2"/>
<polygon points="609.6,405.2 613.7,397.6 607.4,396.1 607.8,404.8" fill="#165f8c"/>
<circle cx="611.3" cy="393.7" r="2.7" fill="#0a4670" stroke="#1a6896" stroke-width="1.2"/>
<polygon points="619.7,410.5 626.7,405.4 621.7,401.4 618.3,409.4" fill="#165f8c"/>
<circle cx="626.2" cy="400.9" r="2.7" fill="#0a4670" stroke="#1a6896" stroke-width="1.2"/>
<polygon points="626.5,419.7 635.1,418.2 632.2,412.3 625.7,418.0" fill="#165f8c"/>
<circle cx="636.6" cy="413.8" r="2.7" fill="#0a4670" stroke="#1a6896" stroke-width="1.2"/>
<circle cx="603" cy="430" r="27" fill="#0a4670"/>
<circle cx="603" cy="430" r="25.1" fill="none" stroke="#03213a" stroke-width="3.8"/>
<circle cx="600.6" cy="432.5" r="2.7" fill="none" stroke="#1a6896" stroke-width="1.0"/>
<circle cx="592.7" cy="427.0" r="2.7" fill="none" stroke="#1a6896" stroke-width="1.0"/>
<circle cx="608.0" cy="419.2" r="2.7" fill="none" stroke="#1a6896" stroke-width="1.0"/>
<circle cx="620.4" cy="425.2" r="2.7" fill="none" stroke="#1a6896" stroke-width="1.0"/>
<circle cx="613.8" cy="438.7" r="2.7" fill="none" stroke="#1a6896" stroke-width="1.0"/>
<circle cx="591.1" cy="417.4" r="2.7" fill="none" stroke="#1a6896" stroke-width="1.0"/>
<circle cx="600.1" cy="442.3" r="2.7" fill="none" stroke="#1a6896" stroke-width="1.0"/>
<circle cx="586.1" cy="434.8" r="2.7" fill="none" stroke="#1a6896" stroke-width="1.0"/>
</g>
<g opacity="1" filter="url(#b15)">
<polygon points="742.1,426.3 753.9,429.6 753.9,420.4 742.1,423.7" fill="#165f8c"/>
<circle cx="758.4" cy="425.0" r="3.8" fill="#0a4670" stroke="#1a6896" stroke-width="1.7"/>
<polygon points="739.9,437.4 750.1,444.1 752.9,435.5 740.7,434.9" fill="#165f8c"/>
<circle cx="755.9" cy="441.2" r="3.8" fill="#0a4670" stroke="#1a6896" stroke-width="1.7"/>
<polygon points="734.4,447.3 742.1,456.8 747.4,449.5 736.0,445.1" fill="#165f8c"/>
<circle cx="748.4" cy="455.8" r="3.8" fill="#0a4670" stroke="#1a6896" stroke-width="1.7"/>
<polygon points="726.1,455.0 730.5,466.4 737.8,461.1 728.3,453.4" fill="#165f8c"/>
<circle cx="736.8" cy="467.4" r="3.8" fill="#0a4670" stroke="#1a6896" stroke-width="1.7"/>
<polygon points="715.9,459.7 716.5,471.9 725.1,469.1 718.4,458.9" fill="#165f8c"/>
<circle cx="722.2" cy="474.9" r="3.8" fill="#0a4670" stroke="#1a6896" stroke-width="1.7"/>
<polygon points="704.7,461.1 701.4,472.9 710.6,472.9 707.3,461.1" fill="#165f8c"/>
<circle cx="706.0" cy="477.4" r="3.8" fill="#0a4670" stroke="#1a6896" stroke-width="1.7"/>
<polygon points="693.6,458.9 686.9,469.1 695.5,471.9 696.1,459.7" fill="#165f8c"/>
<circle cx="689.8" cy="474.9" r="3.8" fill="#0a4670" stroke="#1a6896" stroke-width="1.7"/>
<polygon points="683.7,453.4 674.2,461.1 681.5,466.4 685.9,455.0" fill="#165f8c"/>
<circle cx="675.2" cy="467.4" r="3.8" fill="#0a4670" stroke="#1a6896" stroke-width="1.7"/>
<polygon points="676.0,445.1 664.6,449.5 669.9,456.8 677.6,447.3" fill="#165f8c"/>
<circle cx="663.6" cy="455.8" r="3.8" fill="#0a4670" stroke="#1a6896" stroke-width="1.7"/>
<polygon points="671.3,434.9 659.1,435.5 661.9,444.1 672.1,437.4" fill="#165f8c"/>
<circle cx="656.1" cy="441.2" r="3.8" fill="#0a4670" stroke="#1a6896" stroke-width="1.7"/>
<polygon points="669.9,423.7 658.1,420.4 658.1,429.6 669.9,426.3" fill="#165f8c"/>
<circle cx="653.6" cy="425.0" r="3.8" fill="#0a4670" stroke="#1a6896" stroke-width="1.7"/>
<polygon points="672.1,412.6 661.9,405.9 659.1,414.5 671.3,415.1" fill="#165f8c"/>
<circle cx="656.1" cy="408.8" r="3.8" fill="#0a4670" stroke="#1a6896" stroke-width="1.7"/>
<polygon points="677.6,402.7 669.9,393.2 664.6,400.5 676.0,404.9" fill="#165f8c"/>
<circle cx="663.6" cy="394.2" r="3.8" fill="#0a4670" stroke="#1a6896" stroke-width="1.7"/>
<polygon points="685.9,395.0 681.5,383.6 674.2,388.9 683.7,396.6" fill="#165f8c"/>
<circle cx="675.2" cy="382.6" r="3.8" fill="#0a4670" stroke="#1a6896" stroke-width="1.7"/>
<polygon points="696.1,390.3 695.5,378.1 686.9,380.9 693.6,391.1" fill="#165f8c"/>
<circle cx="689.8" cy="375.1" r="3.8" fill="#0a4670" stroke="#1a6896" stroke-width="1.7"/>
<polygon points="707.3,388.9 710.6,377.1 701.4,377.1 704.7,388.9" fill="#165f8c"/>
<circle cx="706.0" cy="372.6" r="3.8" fill="#0a4670" stroke="#1a6896" stroke-width="1.7"/>
<polygon points="718.4,391.1 725.1,380.9 716.5,378.1 715.9,390.3" fill="#165f8c"/>
<circle cx="722.2" cy="375.1" r="3.8" fill="#0a4670" stroke="#1a6896" stroke-width="1.7"/>
<polygon points="728.3,396.6 737.8,388.9 730.5,383.6 726.1,395.0" fill="#165f8c"/>
<circle cx="736.8" cy="382.6" r="3.8" fill="#0a4670" stroke="#1a6896" stroke-width="1.7"/>
<polygon points="736.0,404.9 747.4,400.5 742.1,393.2 734.4,402.7" fill="#165f8c"/>
<circle cx="748.4" cy="394.2" r="3.8" fill="#0a4670" stroke="#1a6896" stroke-width="1.7"/>
<polygon points="740.7,415.1 752.9,414.5 750.1,405.9 739.9,412.6" fill="#165f8c"/>
<circle cx="755.9" cy="408.8" r="3.8" fill="#0a4670" stroke="#1a6896" stroke-width="1.7"/>
<circle cx="706" cy="425" r="38" fill="#0a4670"/>
<circle cx="706" cy="425" r="35.3" fill="none" stroke="#03213a" stroke-width="5.3"/>
<circle cx="720.5" cy="412.6" r="3.8" fill="none" stroke="#1a6896" stroke-width="1.3"/>
<circle cx="728.7" cy="427.1" r="3.8" fill="none" stroke="#1a6896" stroke-width="1.3"/>
<circle cx="688.4" cy="433.6" r="3.8" fill="none" stroke="#1a6896" stroke-width="1.3"/>
<circle cx="700.7" cy="405.2" r="3.8" fill="none" stroke="#1a6896" stroke-width="1.3"/>
<circle cx="699.2" cy="447.5" r="3.8" fill="none" stroke="#1a6896" stroke-width="1.3"/>
<circle cx="717.3" cy="441.3" r="3.8" fill="none" stroke="#1a6896" stroke-width="1.3"/>
<circle cx="708.6" cy="418.7" r="3.8" fill="none" stroke="#1a6896" stroke-width="1.3"/>
<circle cx="686.2" cy="414.9" r="3.8" fill="none" stroke="#1a6896" stroke-width="1.3"/>
</g>
<g opacity="0.9" filter="url(#b3)">
<circle cx="58" cy="428" r="27" fill="#0b4a70"/>
<circle cx="88.2" cy="428.0" r="3.0" fill="#13608a"/>
<circle cx="86.4" cy="438.3" r="3.0" fill="#13608a"/>
<circle cx="81.2" cy="447.4" r="3.0" fill="#13608a"/>
<circle cx="73.1" cy="454.2" r="3.0" fill="#13608a"/>
<circle cx="63.3" cy="457.8" r="3.0" fill="#13608a"/>
<circle cx="52.7" cy="457.8" r="3.0" fill="#13608a"/>
<circle cx="42.9" cy="454.2" r="3.0" fill="#13608a"/>
<circle cx="34.8" cy="447.4" r="3.0" fill="#13608a"/>
<circle cx="29.6" cy="438.3" r="3.0" fill="#13608a"/>
<circle cx="27.8" cy="428.0" r="3.0" fill="#13608a"/>
<circle cx="29.6" cy="417.7" r="3.0" fill="#13608a"/>
<circle cx="34.8" cy="408.6" r="3.0" fill="#13608a"/>
<circle cx="42.9" cy="401.8" r="3.0" fill="#13608a"/>
<circle cx="52.7" cy="398.2" r="3.0" fill="#13608a"/>
<circle cx="63.3" cy="398.2" r="3.0" fill="#13608a"/>
<circle cx="73.1" cy="401.8" r="3.0" fill="#13608a"/>
<circle cx="81.2" cy="408.6" r="3.0" fill="#13608a"/>
<circle cx="86.4" cy="417.7" r="3.0" fill="#13608a"/>
<circle cx="79.3" cy="431.8" r="1.9" fill="#13608a" opacity=".7"/>
<circle cx="76.7" cy="438.8" r="1.9" fill="#13608a" opacity=".7"/>
<circle cx="71.9" cy="444.5" r="1.9" fill="#13608a" opacity=".7"/>
<circle cx="65.4" cy="448.3" r="1.9" fill="#13608a" opacity=".7"/>
<circle cx="58.0" cy="449.6" r="1.9" fill="#13608a" opacity=".7"/>
<circle cx="50.6" cy="448.3" r="1.9" fill="#13608a" opacity=".7"/>
<circle cx="44.1" cy="444.5" r="1.9" fill="#13608a" opacity=".7"/>
<circle cx="39.3" cy="438.8" r="1.9" fill="#13608a" opacity=".7"/>
<circle cx="36.7" cy="431.8" r="1.9" fill="#13608a" opacity=".7"/>
<circle cx="36.7" cy="424.2" r="1.9" fill="#13608a" opacity=".7"/>
<circle cx="39.3" cy="417.2" r="1.9" fill="#13608a" opacity=".7"/>
<circle cx="44.1" cy="411.5" r="1.9" fill="#13608a" opacity=".7"/>
<circle cx="50.6" cy="407.7" r="1.9" fill="#13608a" opacity=".7"/>
<circle cx="58.0" cy="406.4" r="1.9" fill="#13608a" opacity=".7"/>
<circle cx="65.4" cy="407.7" r="1.9" fill="#13608a" opacity=".7"/>
<circle cx="71.9" cy="411.5" r="1.9" fill="#13608a" opacity=".7"/>
<circle cx="76.7" cy="417.2" r="1.9" fill="#13608a" opacity=".7"/>
<circle cx="79.3" cy="424.2" r="1.9" fill="#13608a" opacity=".7"/>
<circle cx="61.9" cy="424.2" r="2.7" fill="#052f4b" opacity=".8"/>
<circle cx="50.4" cy="431.5" r="2.7" fill="#052f4b" opacity=".8"/>
<circle cx="49.6" cy="421.9" r="2.7" fill="#052f4b" opacity=".8"/>
<circle cx="69.6" cy="432.3" r="2.7" fill="#052f4b" opacity=".8"/>
</g>
<g opacity="0.9" filter="url(#b3)">
<circle cx="162" cy="428" r="40" fill="#0d5079"/>
<circle cx="206.8" cy="428.0" r="4.4" fill="#186892"/>
<circle cx="204.1" cy="443.3" r="4.4" fill="#186892"/>
<circle cx="196.3" cy="456.8" r="4.4" fill="#186892"/>
<circle cx="184.4" cy="466.8" r="4.4" fill="#186892"/>
<circle cx="169.8" cy="472.1" r="4.4" fill="#186892"/>
<circle cx="154.2" cy="472.1" r="4.4" fill="#186892"/>
<circle cx="139.6" cy="466.8" r="4.4" fill="#186892"/>
<circle cx="127.7" cy="456.8" r="4.4" fill="#186892"/>
<circle cx="119.9" cy="443.3" r="4.4" fill="#186892"/>
<circle cx="117.2" cy="428.0" r="4.4" fill="#186892"/>
<circle cx="119.9" cy="412.7" r="4.4" fill="#186892"/>
<circle cx="127.7" cy="399.2" r="4.4" fill="#186892"/>
<circle cx="139.6" cy="389.2" r="4.4" fill="#186892"/>
<circle cx="154.2" cy="383.9" r="4.4" fill="#186892"/>
<circle cx="169.8" cy="383.9" r="4.4" fill="#186892"/>
<circle cx="184.4" cy="389.2" r="4.4" fill="#186892"/>
<circle cx="196.3" cy="399.2" r="4.4" fill="#186892"/>
<circle cx="204.1" cy="412.7" r="4.4" fill="#186892"/>
<circle cx="193.5" cy="433.6" r="2.8" fill="#186892" opacity=".7"/>
<circle cx="189.7" cy="444.0" r="2.8" fill="#186892" opacity=".7"/>
<circle cx="182.6" cy="452.5" r="2.8" fill="#186892" opacity=".7"/>
<circle cx="172.9" cy="458.1" r="2.8" fill="#186892" opacity=".7"/>
<circle cx="162.0" cy="460.0" r="2.8" fill="#186892" opacity=".7"/>
<circle cx="151.1" cy="458.1" r="2.8" fill="#186892" opacity=".7"/>
<circle cx="141.4" cy="452.5" r="2.8" fill="#186892" opacity=".7"/>
<circle cx="134.3" cy="444.0" r="2.8" fill="#186892" opacity=".7"/>
<circle cx="130.5" cy="433.6" r="2.8" fill="#186892" opacity=".7"/>
<circle cx="130.5" cy="422.4" r="2.8" fill="#186892" opacity=".7"/>
<circle cx="134.3" cy="412.0" r="2.8" fill="#186892" opacity=".7"/>
<circle cx="141.4" cy="403.5" r="2.8" fill="#186892" opacity=".7"/>
<circle cx="151.1" cy="397.9" r="2.8" fill="#186892" opacity=".7"/>
<circle cx="162.0" cy="396.0" r="2.8" fill="#186892" opacity=".7"/>
<circle cx="172.9" cy="397.9" r="2.8" fill="#186892" opacity=".7"/>
<circle cx="182.6" cy="403.5" r="2.8" fill="#186892" opacity=".7"/>
<circle cx="189.7" cy="412.0" r="2.8" fill="#186892" opacity=".7"/>
<circle cx="193.5" cy="422.4" r="2.8" fill="#186892" opacity=".7"/>
<circle cx="172.2" cy="442.2" r="4.0" fill="#052f4b" opacity=".8"/>
<circle cx="141.0" cy="427.2" r="4.0" fill="#052f4b" opacity=".8"/>
<circle cx="161.2" cy="418.7" r="4.0" fill="#052f4b" opacity=".8"/>
<circle cx="153.3" cy="445.6" r="4.0" fill="#052f4b" opacity=".8"/>
</g>
<g opacity="0.8" filter="url(#b3)">
<circle cx="268" cy="434" r="28" fill="#0b4a70"/>
<circle cx="299.4" cy="434.0" r="3.1" fill="#13608a"/>
<circle cx="297.5" cy="444.7" r="3.1" fill="#13608a"/>
<circle cx="292.0" cy="454.2" r="3.1" fill="#13608a"/>
<circle cx="283.7" cy="461.2" r="3.1" fill="#13608a"/>
<circle cx="273.4" cy="464.9" r="3.1" fill="#13608a"/>
<circle cx="262.6" cy="464.9" r="3.1" fill="#13608a"/>
<circle cx="252.3" cy="461.2" r="3.1" fill="#13608a"/>
<circle cx="244.0" cy="454.2" r="3.1" fill="#13608a"/>
<circle cx="238.5" cy="444.7" r="3.1" fill="#13608a"/>
<circle cx="236.6" cy="434.0" r="3.1" fill="#13608a"/>
<circle cx="238.5" cy="423.3" r="3.1" fill="#13608a"/>
<circle cx="244.0" cy="413.8" r="3.1" fill="#13608a"/>
<circle cx="252.3" cy="406.8" r="3.1" fill="#13608a"/>
<circle cx="262.6" cy="403.1" r="3.1" fill="#13608a"/>
<circle cx="273.4" cy="403.1" r="3.1" fill="#13608a"/>
<circle cx="283.7" cy="406.8" r="3.1" fill="#13608a"/>
<circle cx="292.0" cy="413.8" r="3.1" fill="#13608a"/>
<circle cx="297.5" cy="423.3" r="3.1" fill="#13608a"/>
<circle cx="290.1" cy="437.9" r="2.0" fill="#13608a" opacity=".7"/>
<circle cx="287.4" cy="445.2" r="2.0" fill="#13608a" opacity=".7"/>
<circle cx="282.4" cy="451.2" r="2.0" fill="#13608a" opacity=".7"/>
<circle cx="275.7" cy="455.0" r="2.0" fill="#13608a" opacity=".7"/>
<circle cx="268.0" cy="456.4" r="2.0" fill="#13608a" opacity=".7"/>
<circle cx="260.3" cy="455.0" r="2.0" fill="#13608a" opacity=".7"/>
<circle cx="253.6" cy="451.2" r="2.0" fill="#13608a" opacity=".7"/>
<circle cx="248.6" cy="445.2" r="2.0" fill="#13608a" opacity=".7"/>
<circle cx="245.9" cy="437.9" r="2.0" fill="#13608a" opacity=".7"/>
<circle cx="245.9" cy="430.1" r="2.0" fill="#13608a" opacity=".7"/>
<circle cx="248.6" cy="422.8" r="2.0" fill="#13608a" opacity=".7"/>
<circle cx="253.6" cy="416.8" r="2.0" fill="#13608a" opacity=".7"/>
<circle cx="260.3" cy="413.0" r="2.0" fill="#13608a" opacity=".7"/>
<circle cx="268.0" cy="411.6" r="2.0" fill="#13608a" opacity=".7"/>
<circle cx="275.7" cy="413.0" r="2.0" fill="#13608a" opacity=".7"/>
<circle cx="282.4" cy="416.8" r="2.0" fill="#13608a" opacity=".7"/>
<circle cx="287.4" cy="422.8" r="2.0" fill="#13608a" opacity=".7"/>
<circle cx="290.1" cy="430.1" r="2.0" fill="#13608a" opacity=".7"/>
<circle cx="280.9" cy="436.4" r="2.8" fill="#052f4b" opacity=".8"/>
<circle cx="268.9" cy="439.2" r="2.8" fill="#052f4b" opacity=".8"/>
<circle cx="270.5" cy="428.8" r="2.8" fill="#052f4b" opacity=".8"/>
<circle cx="258.3" cy="427.6" r="2.8" fill="#052f4b" opacity=".8"/>
</g>
</svg>
<div class="title" style="top:7.5px;letter-spacing:-0.138px;left:-1px">DATI UFFICIALI DELL’UNITÀ DI CRISI DELLA REGIONE CAMPANIA</div>
<div class="title" style="top:29.3px;letter-spacing:0.16px;left:-2.75px">11 LUGLIO 2021</div>
<div class="title" style="top:51.7px;letter-spacing:-0.26px;left:-1px">GRUPPO TELENUOVA</div>

<div class="tbl" style="left:14px">
<div class="hdr"><span style="left:0;width:213px"><b>CITTÀ</b></span><span style="left:213px;width:109.5px"><b>POSITIVI</b></span></div>
<div class="row" style="top:22px;height:25px"><div class="c"><span>ANGRI</span></div><div class="p"><span>0</span></div></div>
<div class="row" style="top:47px;height:25px"><div class="c"><span>BARONISSI</span></div><div class="p"><span>1</span></div></div>
<div class="row" style="top:72px;height:26px"><div class="c"><span>CASTEL SAN GIORGIO</span></div><div class="p"><span>0</span></div></div>
<div class="row" style="top:98px;height:25px"><div class="c"><span>CAVA DE’ TIRRENI</span></div><div class="p"><span>0</span></div></div>
<div class="row" style="top:123px;height:25px"><div class="c"><span>CORBARA</span></div><div class="p"><span>0</span></div></div>
<div class="row" style="top:148px;height:25px"><div class="c"><span>FISCIANO</span></div><div class="p"><span>0</span></div></div>
<div class="row" style="top:173px;height:25px"><div class="c"><span>MERCATO SAN SEVERINO</span></div><div class="p"><span>0</span></div></div>
<div class="row" style="top:198px;height:26px"><div class="c"><span>NOCERA INFERIORE</span></div><div class="p"><span>0</span></div></div>
<div class="row" style="top:224px;height:25px"><div class="c"><span>NOCERA SUPERIORE</span></div><div class="p"><span>0</span></div></div>
<div class="row" style="top:249px;height:25px"><div class="c"><span>PAGANI</span></div><div class="p"><span>0</span></div></div>
</div>

<div class="tbl" style="left:348px">
<div class="hdr"><span style="left:0;width:213px"><b>CITTÀ</b></span><span style="left:213px;width:109.5px"><b>POSITIVI</b></span></div>
<div class="row" style="top:22px;height:25px"><div class="c"><span>SALERNO</span></div><div class="p"><span>1</span></div></div>
<div class="row" style="top:47px;height:25px"><div class="c"><span>ROCCAPIEMONTE</span></div><div class="p"><span>0</span></div></div>
<div class="row" style="top:72px;height:26px"><div class="c"><span>S.EGIDIO DEL M. ALBINO</span></div><div class="p"><span>0</span></div></div>
<div class="row" style="top:98px;height:25px"><div class="c"><span>SARNO</span></div><div class="p"><span>0</span></div></div>
<div class="row" style="top:123px;height:25px"><div class="c"><span>S. MARZANO SUL SARNO</span></div><div class="p"><span>0</span></div></div>
<div class="row" style="top:148px;height:25px"><div class="c"><span>SCAFATI</span></div><div class="p"><span>3</span></div></div>
<div class="row" style="top:173px;height:25px"><div class="c"><span>BRACIGLIANO</span></div><div class="p"><span>0</span></div></div>
<div class="row" style="top:198px;height:26px"><div class="c"><span>SAN VALENTINO TORIO</span></div><div class="p"><span>0</span></div></div>
<div class="row" style="top:224px;height:25px"><div class="c"><span>SIANO</span></div><div class="p"><span>0</span></div></div>
<div class="row" style="top:249px;height:25px"><div class="c"><span>TRAMONTI</span></div><div class="p"><span>0</span></div></div>
</div>
</body></html>
